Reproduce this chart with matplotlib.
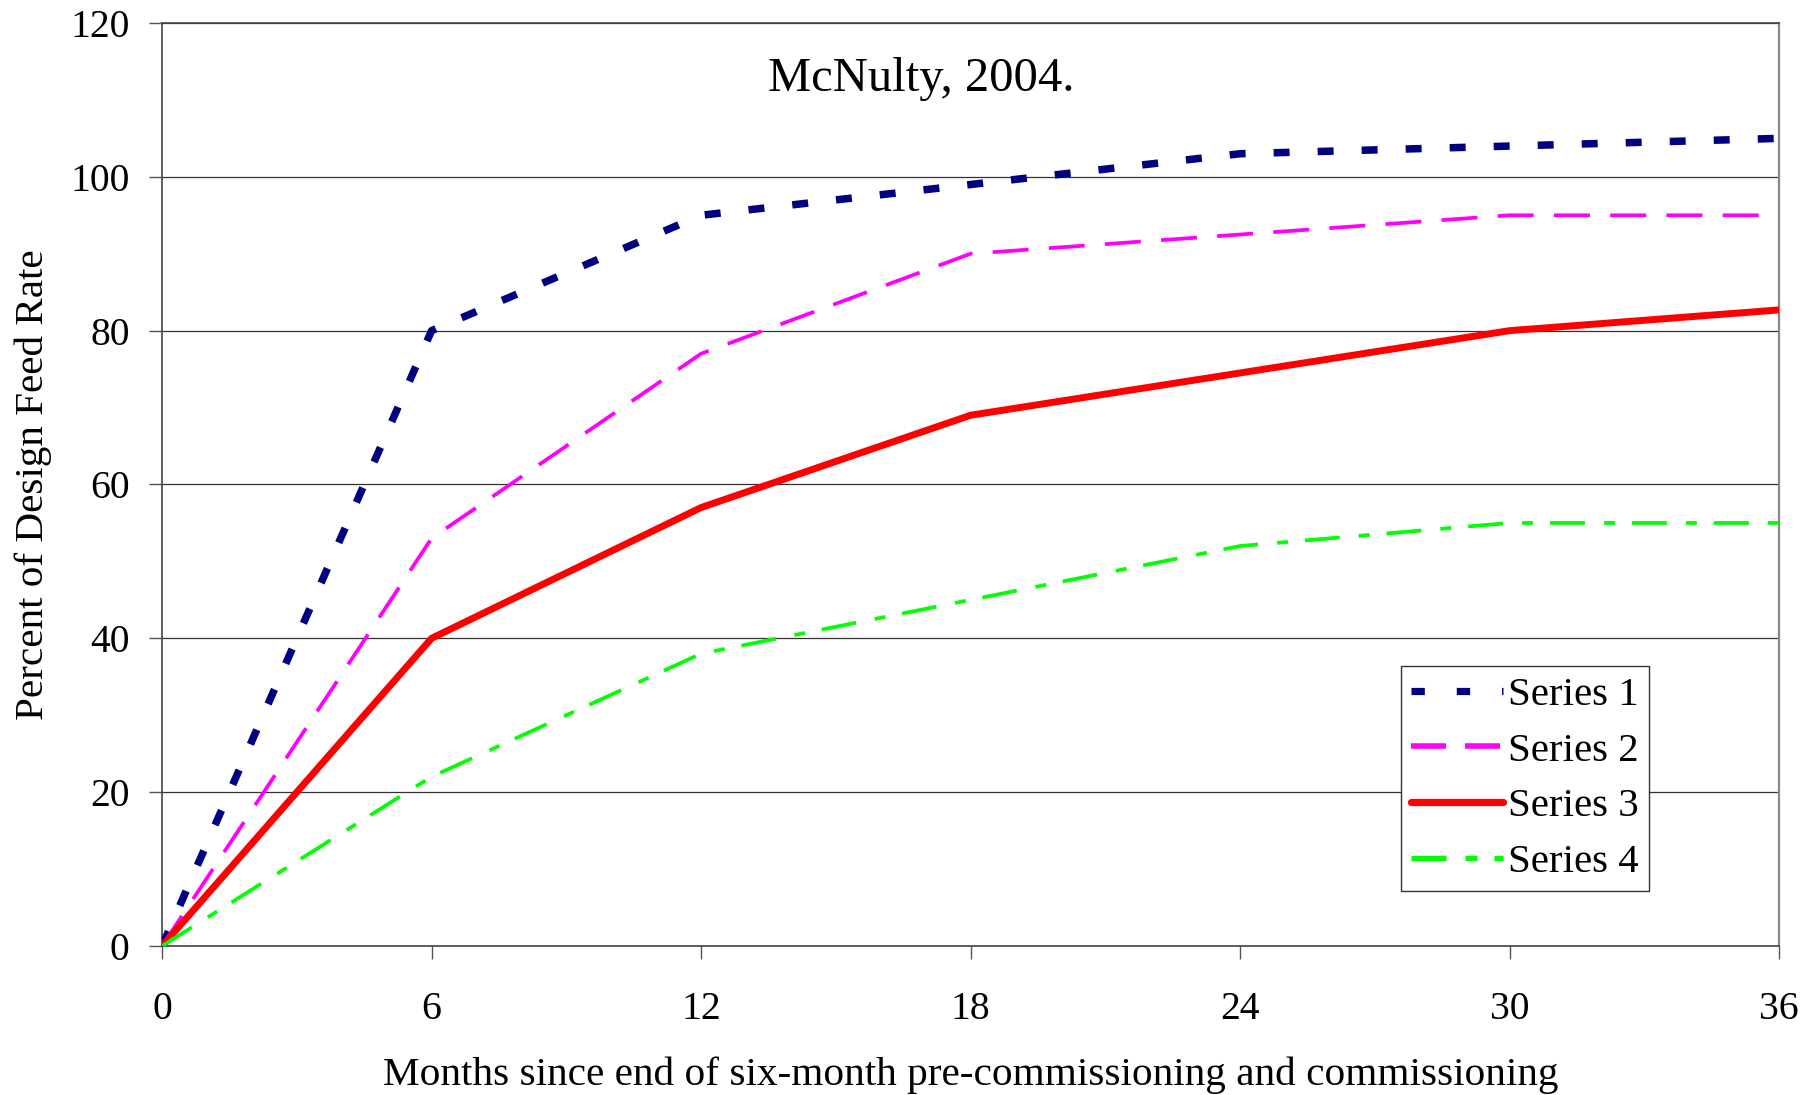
import matplotlib
matplotlib.use("Agg")
import matplotlib.pyplot as plt
from matplotlib.lines import Line2D

plt.rcParams['font.family'] = ['Liberation Serif', 'DejaVu Serif']
plt.rcParams['lines.scale_dashes'] = False

# months after commissioning
months = [0, 6, 12, 18, 24, 30, 36]

# percent of design feed rate
series1 = [0, 80, 95, 99, 103, 104, 105]
series2 = [0, 53, 77, 90, 92.5, 95, 95]
series3 = [0, 40, 57, 69, 74.5, 80, 82.7]
series4 = [0, 22, 38, 45, 52, 55, 55]

labels = ['Series 1', 'Series 2', 'Series 3', 'Series 4']
colors = ['#000080', '#FF00FF', '#FF0000', '#00FF00']

x_ticks = [0, 6, 12, 18, 24, 30, 36]
y_ticks = [0, 20, 40, 60, 80, 100, 120]

fig = plt.figure(figsize=(18.15, 10.95), dpi=100)
ax = fig.add_axes([0.0893, 0.1361, 0.8909, 0.8429])

# line styles (points, dashes not scaled by width)
ax.plot(months, series1, color=colors[0], lw=5.4, dashes=(11.5, 20.2),
        dash_capstyle='butt', solid_joinstyle='miter', zorder=3)
ax.plot(months, series2, color=colors[1], lw=2.7, dashes=(25.9, 14.6),
        dash_capstyle='butt', zorder=3)
ax.plot(months, series3, color=colors[2], lw=5.0, solid_capstyle='round', zorder=3)
ax.plot(months, series4, color=colors[3], lw=2.7, dashes=(25.2, 13.7, 7.9, 12.2),
        dash_capstyle='butt', zorder=3)

ax.set_xlim(0, 36)
ax.set_ylim(0, 120)
ax.set_xticks(x_ticks)
ax.set_yticks(y_ticks)
ax.tick_params(axis='both', direction='out', length=9.4, width=1.0,
               color='#555555', labelsize=28.5)
ax.tick_params(axis='x', pad=23)
ax.tick_params(axis='y', pad=14)

ax.yaxis.grid(True, color='#333333', lw=0.9)
ax.set_axisbelow(True)
for side in ['left', 'bottom', 'top']:
    ax.spines[side].set_color('#444444')
    ax.spines[side].set_linewidth(1.2)
ax.spines['right'].set_color('#888888')
ax.spines['right'].set_linewidth(1.6)

ax.set_xlabel('Months since end of six-month pre-commissioning and commissioning',
              fontsize=29.7, va='baseline')
ax.xaxis.set_label_coords(0.5, -0.1506)
ax.set_ylabel('Percent of Design Feed Rate', fontsize=29.6, va='baseline')
ax.yaxis.set_label_coords(-0.0734, 0.5)

ax.text(0.4697, 0.9263, 'McNulty, 2004.', transform=ax.transAxes,
        ha='center', va='baseline', fontsize=35)

# legend handles are drawn a bit heavier than the plotted lines
handles = [
    Line2D([], [], color=colors[0], lw=5.2, dashes=(9.6, 23.0), dash_capstyle='butt'),
    Line2D([], [], color=colors[1], lw=4.0, dashes=(25.2, 13.7), dash_capstyle='butt'),
    Line2D([], [], color=colors[2], lw=5.2, solid_capstyle='round'),
    Line2D([], [], color=colors[3], lw=3.8, dashes=(25.2, 13.7, 8.6, 12.2),
           dash_capstyle='butt'),
]
leg = ax.legend(handles, labels, loc='upper left', bbox_to_anchor=(0.766, 0.3034),
                borderaxespad=0, fontsize=29.5, handlelength=2.25,
                handletextpad=0.12, labelspacing=0.44, borderpad=0.25,
                fancybox=False, framealpha=1, edgecolor='#333333')
leg.get_frame().set_linewidth(1.0)
leg.set_zorder(5)

fig.savefig('out.png', dpi=100)
